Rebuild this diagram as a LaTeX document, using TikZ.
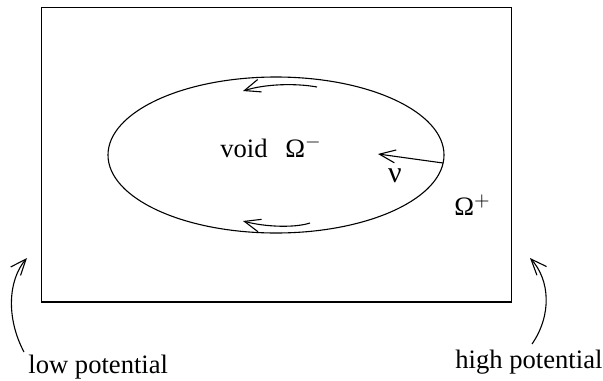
\documentclass[tikz,border=0pt]{standalone}
\usepackage{fontspec}
\setmainfont{Liberation Serif}
\usetikzlibrary{arrows.meta}
\newcommand{\supsign}[2]{\raisebox{#1}{\fontsize{10}{10}\selectfont$#2$}}
\tikzset{
  lbl/.style={font=\fontsize{13.3}{16}\selectfont, inner sep=0pt, anchor=base},
  lblw/.style={lbl, anchor=base west},
  thinline/.style={line width=0.55pt},
  arr/.style={thinline, -{Straight Barb[length=8pt,width=6.5pt,line width=0.55pt]}}
}
\begin{document}
\begin{tikzpicture}[x=0.5pt,y=-0.5pt]
\useasboundingbox (0,0) rectangle (603,380);
% domain
\draw[line width=0.65pt] (41.5,7.5) rectangle (511.5,302);
% void boundary
\draw[thinline] (276,155) ellipse [x radius=168, y radius=78];
% texts
\node[lbl]  (void)  at (244,157) {void};
\node[lblw] (om)    at (285,157) {Ω\supsign{5pt}{-}};
\node[lbl]  (nu)    at (395,182) {\fontsize{15}{16}\selectfont ν};
\node[lblw] (op)    at (454,215) {Ω\supsign{4.3pt}{+}};
\node[lblw] (low)   at (28,373)  {low potential};
\node[lblw] (high)  at (455,368) {high potential};
% coordinates for arrows
\coordinate (ta) at (317,87);  \coordinate (tb) at (243,91);
\coordinate (ba) at (310,223); \coordinate (bb) at (243,221);
\coordinate (na) at (443,163); \coordinate (nb) at (378,154);
\coordinate (la) at (24,352);  \coordinate (lb) at (27,258);
\coordinate (ra) at (532,344); \coordinate (rb) at (530,258);
% orientation arrows
\draw[arr] (ta) .. controls (295,83) and (265,84) .. (tb);
\draw[arr] (ba) .. controls (295,228) and (265,227) .. (bb);
% normal
\draw[arr] (na) -- (nb);
% potential arrows
\draw[arr] (la) .. controls (6,318) and (8,280) .. (lb);
\draw[arr] (ra) .. controls (552,315) and (550,280) .. (rb);
\end{tikzpicture}
\end{document}
